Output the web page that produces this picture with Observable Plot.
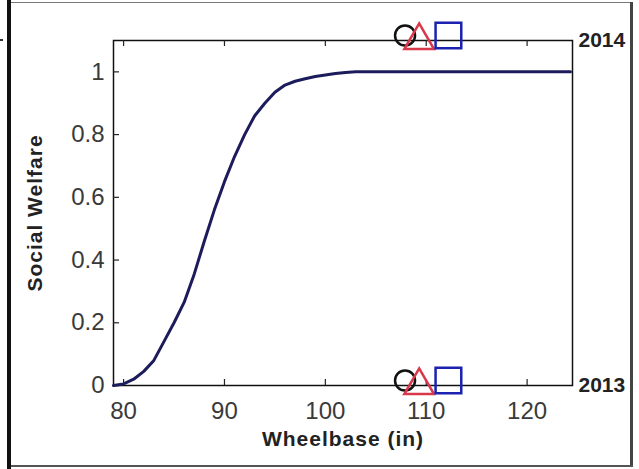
<!DOCTYPE html>
<html>
<head>
<meta charset="utf-8">
<script src="https://cdn.jsdelivr.net/npm/d3@7"></script>
<script src="https://cdn.jsdelivr.net/npm/@observablehq/plot@0.6"></script>
<style>
  html, body { margin: 0; padding: 0; background: #fff; }
  #wrap { position: relative; width: 639px; height: 469px; overflow: hidden; }
  .edge { position: absolute; }
</style>
</head>
<body>
<div id="wrap">
  <div id="chart"></div>
  <div class="edge" style="left:7px;top:0;width:4px;height:469px;background:#111;"></div>
  <div class="edge" style="left:11px;top:2px;width:622px;height:1px;background:#777;"></div>
  <div class="edge" style="left:630px;top:2px;width:3px;height:464px;background:#444;"></div>
  <div class="edge" style="left:11px;top:465px;width:622px;height:2px;background:#555;"></div>
  <div class="edge" style="left:0;top:39px;width:3px;height:2px;background:#333;"></div>
</div>
<script>
// ---- data ----
const wheelbase = [79, 80, 81, 82, 83, 84, 85, 86, 87, 88, 89, 90, 91, 92, 93, 94, 95, 96, 97, 98, 99, 100, 101, 102, 103, 110, 124.3];
const welfare   = [0, 0.005, 0.02, 0.045, 0.08, 0.14, 0.2, 0.265, 0.355, 0.46, 0.56, 0.65, 0.73, 0.8, 0.86, 0.9, 0.935, 0.958, 0.97, 0.978, 0.985, 0.99, 0.995, 0.998, 1, 1, 1];

const xTicks = [80, 90, 100, 110, 120];
const yTicks = [0, 0.2, 0.4, 0.6, 0.8, 1];

const years = ["2013", "2014"];
const yearLevels = [0, 1.1];
const markerSymbols = ["circle", "triangle", "square"];
const markerX = [107.9, 109.3, 112.2];
const markerColors = ["#111111", "#d8384a", "#1c22b0"];
const markerR = [10, 11, 14.5];
const markerDy = [-5, 0, -5];

const curve = wheelbase.map((x, i) => ({x, y: welfare[i]}));
const markers = [];
yearLevels.forEach((lv) => markerSymbols.forEach((s, i) => markers.push({x: markerX[i], y: lv, symbol: s, color: markerColors[i], r: markerR[i], dy: markerDy[i]})));
const yearLabels = years.map((t, i) => ({t, y: yearLevels[i]}));

const font = "'Liberation Sans', Arial, sans-serif";
const W = 639, H = 469, ML = 113, MR = 67, MT = 40, MB = 84;
const PW = W - ML - MR, PH = H - MT - MB;

const dotMarks = markerSymbols.map((s, i) =>
  Plot.dot(markers.filter(m => m.symbol === s), {x: "x", y: "y", symbol: s, stroke: markerColors[i], r: markerR[i], strokeWidth: 2.5, dy: markerDy[i]})
);

const chart = Plot.plot({
  width: W,
  height: H,
  marginLeft: ML,
  marginRight: MR,
  marginTop: MT,
  marginBottom: MB,
  style: {fontFamily: font, background: "transparent", overflow: "visible"},
  x: {domain: [79, 124.5]},
  y: {domain: [0, 1.1]},
  marks: [
    Plot.frame({stroke: "#111", strokeWidth: 1.5}),
    // inner tick marks
    Plot.tickX(xTicks, {x: d => d, insetTop: PH - 6, stroke: "#222", strokeWidth: 1.2}),
    Plot.tickX(xTicks, {x: d => d, insetBottom: PH - 6, stroke: "#222", strokeWidth: 1.2}),
    Plot.tickY(yTicks, {y: d => d, insetRight: PW - 6, stroke: "#222", strokeWidth: 1.2}),
    // tick labels
    Plot.axisX(xTicks, {anchor: "bottom", tickSize: 0, tickPadding: 16, fontSize: 24, fill: "#3a3a3a", label: null}),
    Plot.axisY(yTicks, {anchor: "left", tickSize: 0, tickPadding: 9, fontSize: 24, fill: "#3a3a3a", label: null, tickFormat: d => String(d)}),
    // axis titles
    Plot.text(["Wheelbase (in)"], {frameAnchor: "bottom", textAnchor: "middle", dy: 60, text: d => d, fontSize: 21, fontWeight: "bold", fill: "#222"}),
    Plot.text(["Social Welfare"], {frameAnchor: "left", textAnchor: "middle", dx: -78, dy: 0, rotate: -90, text: d => d, fontSize: 21, fontWeight: "bold", fill: "#222"}),
    // curve
    Plot.line(curve, {x: "x", y: "y", stroke: "#1c1c5c", strokeWidth: 3}),
    // markers
    ...dotMarks,
    // right year labels
    Plot.text(yearLabels, {frameAnchor: "right", y: "y", text: "t", textAnchor: "start", dx: 6, fontSize: 21, fontWeight: "bold", fill: "#222"})
  ]
});
d3.select(chart).selectAll("text")
  .filter(function() { return this.textContent === "Wheelbase (in)" || this.textContent === "Social Welfare"; })
  .attr("letter-spacing", "1px");
document.getElementById("chart").appendChild(chart);
</script>
</body>
</html>
